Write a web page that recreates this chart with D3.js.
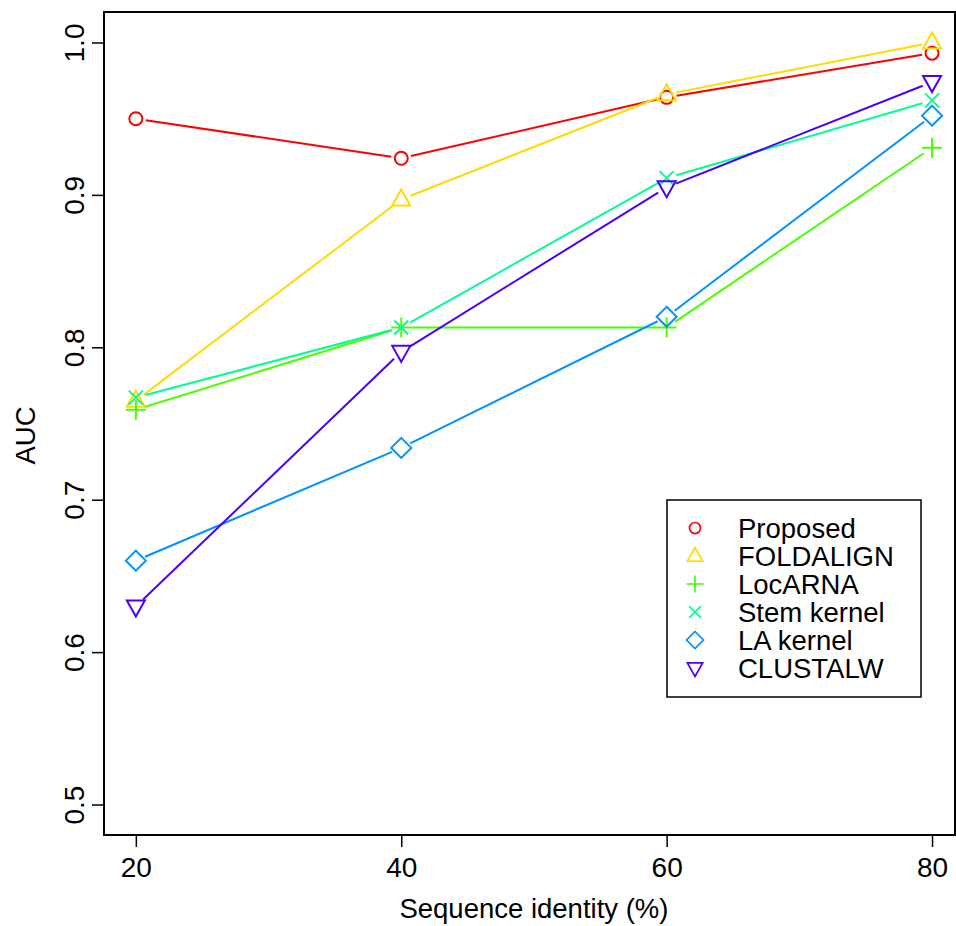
<!DOCTYPE html>
<html lang="en">
<head>
<meta charset="UTF-8">
<title>AUC vs sequence identity</title>
<script src="https://cdn.jsdelivr.net/npm/d3@7"></script>
<style>
  body { margin: 0; background: #fff; }
  text { font-family: "Liberation Sans", Arial, sans-serif; }
</style>
</head>
<body>
<svg></svg>
<script>
var identity = [20, 40, 60, 80];
var xTicks = [20, 40, 60, 80];
var yTicks = [0.5, 0.6, 0.7, 0.8, 0.9, 1.0];

var methods = ['Proposed', 'FOLDALIGN', 'LocARNA', 'Stem kernel', 'LA kernel', 'CLUSTALW'];
var proposed  = [0.950, 0.924, 0.964, 0.993];
var foldalign = [0.765, 0.897, 0.966, 1.000];
var locarna   = [0.759, 0.813, 0.813, 0.931];
var stemKernel = [0.767, 0.813, 0.911, 0.962];
var laKernel  = [0.660, 0.734, 0.820, 0.952];
var clustalw  = [0.630, 0.797, 0.905, 0.974];
var values = [proposed, foldalign, locarna, stemKernel, laKernel, clustalw];

var colors = ['#FF0000', '#FFDB00', '#49FF00', '#00FF92', '#0092FF', '#4900FF'];
var shapes = ['circle', 'triangle', 'plus', 'cross', 'diamond', 'triangleDown'];

var W = 956, H = 926;
var margin = {top: 12, left: 104, bottom: 91, right: 1};
var width = W - margin.left - margin.right;
var height = H - margin.top - margin.bottom;

var svg = d3.select('svg')
	.attr('width', W)
	.attr('height', H)
	.append('g')
	.attr('transform', 'translate(' + margin.left + ',' + margin.top + ')');

// 20 -> 136px, 80 -> 932px, frame cut at 955
var x = d3.scaleLinear().domain([17.6, 81.73]).range([0, width]);
var y = d3.scaleLinear().domain([0.48, 1.02]).range([height, 0]);

// axes
var xAxis = svg.append('g')
	.attr('transform', 'translate(0,' + height + ')')
	.call(d3.axisBottom(x).tickValues(xTicks).tickSize(12).tickFormat(d3.format('d')));
xAxis.select('.domain').remove();
xAxis.selectAll('line').attr('stroke', '#000').attr('stroke-width', 1.5);
xAxis.selectAll('text')
	.attr('y', 42).attr('dy', null)
	.style('font-size', '28px').attr('fill', '#000');

var yAxis = svg.append('g')
	.call(d3.axisLeft(y).tickValues(yTicks).tickSize(12).tickFormat(d3.format('.1f')));
yAxis.select('.domain').remove();
yAxis.selectAll('line').attr('stroke', '#000').attr('stroke-width', 1.5);
yAxis.selectAll('text')
	.attr('x', null).attr('dy', null)
	.attr('transform', 'translate(-20,0) rotate(-90)')
	.attr('text-anchor', 'middle')
	.style('font-size', '28px').attr('fill', '#000');

// frame
svg.append('rect')
	.attr('width', width).attr('height', height)
	.attr('fill', 'none').attr('stroke', '#000').attr('stroke-width', 2);

svg.append('text')
	.attr('x', (x(20) + x(80)) / 2).attr('y', height + 83)
	.attr('text-anchor', 'middle')
	.style('font-size', '27.5px')
	.text('Sequence identity (%)');

svg.append('text')
	.attr('transform', 'translate(' + (-69) + ',' + (height / 2 + 12) + ') rotate(-90)')
	.attr('text-anchor', 'middle')
	.style('font-size', '27.5px')
	.text('AUC');

function symbol(g, shape, color) {
	if (shape === 'circle') {
		g.append('circle').attr('r', 6.5);
	} else if (shape === 'triangle') {
		g.append('path').attr('d', 'M0,-10L9,6L-9,6Z');
	} else if (shape === 'triangleDown') {
		g.append('path').attr('d', 'M0,10L9,-6L-9,-6Z');
	} else if (shape === 'plus') {
		g.append('path').attr('d', 'M-10,0H10M0,-10V10');
	} else if (shape === 'cross') {
		g.append('path').attr('d', 'M-7,-7L7,7M-7,7L7,-7');
	} else if (shape === 'diamond') {
		g.append('path').attr('d', 'M0,-10L10,0L0,10L-10,0Z');
	}
	g.selectAll('*')
		.attr('fill', 'none')
		.attr('stroke', color)
		.attr('stroke-width', 2);
}

// lines with gaps around points (type = "b")
var gap = 10;
values.forEach(function (vals, i) {
	var g = svg.append('g');
	for (var k = 0; k < vals.length - 1; k++) {
		var x0 = x(identity[k]), y0 = y(vals[k]);
		var x1 = x(identity[k + 1]), y1 = y(vals[k + 1]);
		var len = Math.sqrt((x1 - x0) * (x1 - x0) + (y1 - y0) * (y1 - y0));
		var ux = (x1 - x0) / len, uy = (y1 - y0) / len;
		g.append('line')
			.attr('x1', x0 + ux * gap).attr('y1', y0 + uy * gap)
			.attr('x2', x1 - ux * gap).attr('y2', y1 - uy * gap)
			.attr('stroke', colors[i]).attr('stroke-width', 2);
	}
	vals.forEach(function (v, k) {
		var p = g.append('g')
			.attr('transform', 'translate(' + x(identity[k]) + ',' + y(v) + ')');
		symbol(p, shapes[i], colors[i]);
	});
});

// legend
var legend = svg.append('g')
	.attr('transform', 'translate(' + (667 - margin.left) + ',' + (500 - margin.top) + ')');
legend.append('rect')
	.attr('width', 254).attr('height', 197)
	.attr('fill', '#fff').attr('stroke', '#000').attr('stroke-width', 1.5);
methods.forEach(function (m, i) {
	var row = legend.append('g')
		.attr('transform', 'translate(0,' + (28 + i * 28) + ')');
	var sym = row.append('g').attr('transform', 'translate(28,0) scale(0.85)');
	symbol(sym, shapes[i], colors[i]);
	row.append('text')
		.attr('x', 71).attr('y', 10)
		.style('font-size', '27.5px')
		.text(m);
});
</script>
</body>
</html>
